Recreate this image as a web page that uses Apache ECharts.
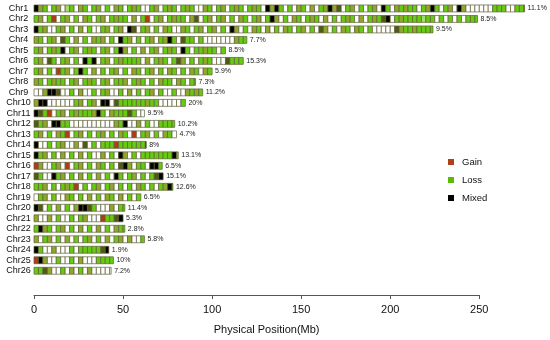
<!DOCTYPE html>
<html><head><meta charset="utf-8">
<script src="https://cdn.jsdelivr.net/npm/echarts@6/dist/echarts.min.js"></script>
<style>html,body{margin:0;padding:0;background:#fff}#c{width:550px;height:340px}</style>
</head><body><div id="c"></div>
<script>
// ---- data ----
const chromosomes = ['Chr1','Chr2','Chr3','Chr4','Chr5','Chr6','Chr7','Chr8','Chr9','Chr10','Chr11','Chr12','Chr13','Chr14','Chr15','Chr16','Chr17','Chr18','Chr19','Chr20','Chr21','Chr22','Chr23','Chr24','Chr25','Chr26'];
const lengthsMb = [275.4, 249, 224, 119.5, 107.5, 117.5, 100, 90.7, 94.7, 85, 62, 79, 80, 63, 81, 72, 72.5, 78, 60, 51, 50, 51, 62, 42, 44.6, 43.3];
const percentLabels = ['11.1%','8.5%','9.5%','7.7%','8.5%','15.3%','5.9%','7.3%','11.2%','20%','9.5%','10.2%','4.7%','8%','13.1%','6.5%','15.1%','12.6%','6.5%','11.4%','5.3%','2.8%','5.8%','1.9%','10%','7.2%'];
const binMb = 2.5;
// one character per 2.5 Mb window: w none, g loss, o/d loss (dense), k mixed, r gain, l light loss
const windowStates = [
  'kogwgowlgw'+'ogwgowgwog'+'wgogwwgowg'+'ogwgogwwog'+'wgowgogwgo'+'gwkokgwgwo'+'gwowgokodw'+'gowgwgowkg'+'wogoggwgok'+'gwgowkowww'+'wwwgggwwggg',
  'gowgrwgowg'+'wogwgowgog'+'gwowgrwgow'+'goggwodwgo'+'wgowgwogwg'+'owgkowgwog'+'wgogwowgwg'+'ogwowgogdk'+'wgogggglgg'+'wgwgwgwggg',
  'kgowwgowgw'+'owgwwgowgo'+'wkdwgowgwo'+'gwwogwgowg'+'owgwkowgwo'+'gwowgwogwg'+'owgwdowgwo'+'gwogwgwwww'+'wdoggogggg',
  'ogwgowdgwo'+'wgwogowgwk'+'gowgwgowgo'+'kgwdggwgww'+'wwwwwogg',
  'gowgogkwgo'+'wgogwgowgk'+'owgwowgowg'+'ogwkgwggog'+'gwg',
  'gowdgwgowg'+'wkgkwgowgo'+'ggggwowgog'+'wgdowgwgog'+'wwwdggg',
  'gowgwrgowg'+'kgwowgwgow'+'gwogwgowgw'+'ogwgwogwog',
  'ogwgoggwgo'+'wgogwgowgg'+'owgogwgwog'+'gwogwgg',
  'wwokkdwwgw'+'owwgwgowwg'+'wowgwgowgw'+'wgwwogog',
  'okkwwwwwwg'+'owgowkkwdg'+'gggggoggww'+'wwwg',
  'kdgrwgowgo'+'gggokgwogg'+'gdgww',
  'dgowkkggww'+'wwwwwwwwog'+'kwwowgwwgg'+'gg',
  'gowgwogrwg'+'owgwgowgwo'+'gwrwgowgwo'+'gw',
  'kwwgwgowwo'+'wdwgwgggrg'+'gggggk',
  'kgowgwowgw'+'owgwwowgwk'+'owgwgggggg'+'gkg',
  'rowwgowrwg'+'owgwogwgwd'+'kowggwkkg',
  'dgwwkgowgw'+'owgwowgwkg'+'wgowgwgdk',
  'ggowgwgogr'+'wgwgowgowg'+'wgwogwgwgo'+'kg',
  'wgowgwwogw'+'gwowgwogwo'+'wgwg',
  'kdwgwowgwo'+'kkdgwwwowg'+'g',
  'owwowgwwgw'+'gowwwrggdk',
  'gkogwgowgw'+'owgwowgwog'+'g',
  'owgowgwowg'+'wgowgwowgo'+'wowwg',
  'kgwwowwwgw'+'gggggdk',
  'rkowwgwwgw'+'owwwgggg',
  'ggdowwgwow'+'gwowwwww'
];
const legendNames = ['Gain','Loss','Mixed'];
const legendColors = ['#b0401a','#5cba00','#000000'];
const stateColors = {w:'#ffffff', g:'#66cc11', l:'#a6dc6a', o:'#8fa82c', d:'#4f5a14', k:'#000000', r:'#b33a14'};

// ---- build cells ----
const cells = [], cellColors = [];
windowStates.forEach((str, c) => {
  const len = lengthsMb[c];
  for (let i = 0; i < str.length; i++) {
    const s = i * binMb;
    if (s >= len) break;
    let e = (i === str.length - 1) ? len : Math.min((i + 1) * binMb, len);
    cells.push([s, e, c]);
    cellColors.push(stateColors[str[i]] || '#ffffff');
  }
});
const endData = lengthsMb.map((l, c) => [l, c]);

const FONT = '"Liberation Sans", Arial, sans-serif';
const chart = echarts.init(document.getElementById('c'), null, {renderer: 'canvas'});
chart.setOption({
  animation: false,
  textStyle: {fontFamily: FONT},
  grid: {left: 34, right: 70.7, top: 3.2, height: 275},
  legend: {
    data: legendNames, orient: 'vertical', left: 443, top: 151,
    icon: 'rect', itemWidth: 6, itemHeight: 6, itemGap: 6,
    itemStyle: {opacity: 1},
    textStyle: {fontSize: 9.5, color: '#111', lineHeight: 12, padding: [0,0,0,3], fontFamily: FONT}
  },
  xAxis: {
    type: 'value', min: 0, max: 250, interval: 50, offset: 19,
    axisLine: {show: true, lineStyle: {color: '#555', width: 1}},
    axisTick: {show: true, length: 4, lineStyle: {color: '#555'}},
    splitLine: {show: false},
    axisLabel: {fontSize: 11, color: '#111', margin: 9, fontFamily: FONT},
    name: 'Physical Position(Mb)', nameLocation: 'middle', nameGap: 29,
    nameTextStyle: {fontSize: 11, color: '#111', padding: [0,0,0,20], fontFamily: FONT}
  },
  yAxis: {
    type: 'category', inverse: true, data: chromosomes,
    axisLine: {show: false}, axisTick: {show: false}, splitLine: {show: false},
    axisLabel: {interval: 0, fontSize: 9, color: '#111', align: 'center', margin: 15.5, fontFamily: FONT}
  },
  series: [
    {
      type: 'custom', name: 'cells', clip: false, data: cells,
      encode: {x: [0, 1], y: 2},
      renderItem: function (params, api) {
        const s = api.value(0), e = api.value(1), y = api.value(2);
        const p0 = api.coord([s, y]), p1 = api.coord([e, y]);
        const h = api.size([0, 1])[1] * 0.66;
        return {
          type: 'rect',
          shape: {x: p0[0], y: p0[1] - h / 2, width: p1[0] - p0[0], height: h},
          style: {fill: cellColors[params.dataIndex], stroke: '#5e5e36', lineWidth: 0.7}
        };
      }
    },
    {
      type: 'custom', name: 'pct', clip: false, data: endData,
      encode: {x: 0, y: 1},
      renderItem: function (params, api) {
        const p = api.coord([api.value(0), api.value(1)]);
        return {
          type: 'text',
          style: {x: p[0] + 3, y: p[1], text: percentLabels[params.dataIndex], fill: '#222',
                  font: '7px ' + FONT, verticalAlign: 'middle', align: 'left'}
        };
      }
    },
    {type: 'scatter', name: 'Gain', data: [], itemStyle: {color: legendColors[0], opacity: 1}},
    {type: 'scatter', name: 'Loss', data: [], itemStyle: {color: legendColors[1], opacity: 1}},
    {type: 'scatter', name: 'Mixed', data: [], itemStyle: {color: legendColors[2], opacity: 1}}
  ]
});
</script></body></html>
